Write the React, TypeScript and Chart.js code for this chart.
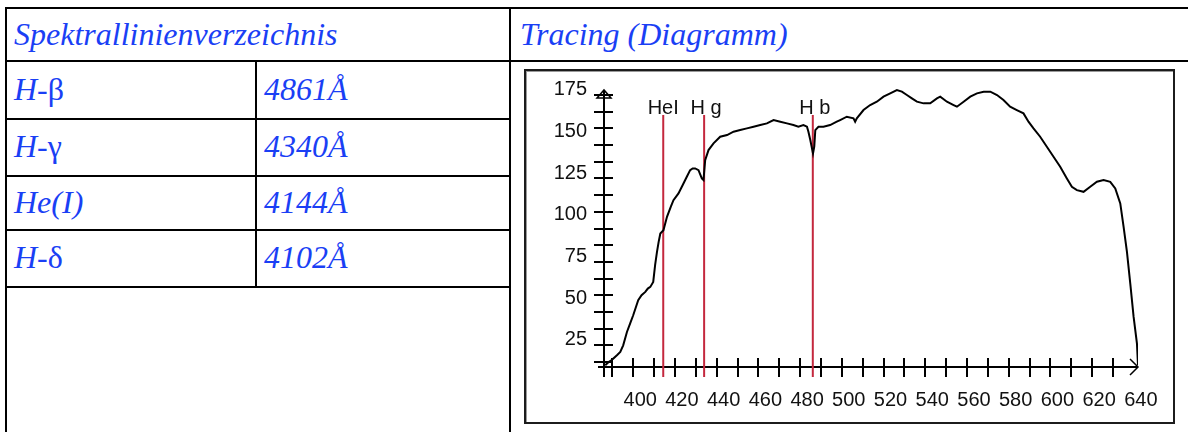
import React, { useEffect, useRef } from "react";
import { Chart, registerables } from "chart.js";

Chart.register(...registerables);

// ---- Chart data ----
const wavelengths = [
  386.6, 388.2, 389.5, 392.2, 393.8, 395.2, 397.0, 398.5, 400.0, 402.4, 404.0, 405.8, 407.0, 408.2, 409.6,
  410.5, 411.4, 412.2, 413.0, 414.5, 416.2, 418.0, 419.3, 421.7, 424.1, 425.7, 427.3, 428.5, 429.7, 431.3,
  432.9, 433.7, 434.5, 436.1, 438.5, 441.7, 445.0, 448.1, 451.3, 454.5, 457.7, 460.9, 464.1, 467.3, 470.5,
  473.7, 476.8, 479.2, 481.6, 483.3, 484.0, 484.9, 486.2, 486.8, 487.3, 488.8, 491.2, 494.4, 497.6, 499.2,
  502.4, 505.6, 506.4, 507.2, 510.4, 513.6, 516.8, 520.0, 523.2, 526.4, 528.8, 531.2, 533.6, 536.0, 539.2,
  542.4, 545.6, 547.2, 550.4, 553.6, 555.2, 558.4, 561.6, 564.8, 568.0, 571.2, 574.4, 577.5, 580.7, 583.9,
  587.1, 589.5, 591.9, 595.1, 598.3, 601.5, 604.7, 607.9, 610.3, 612.7, 615.9, 619.1, 622.3, 625.5, 628.7,
  631.1, 633.5, 635.1, 636.7, 638.3, 639.9, 641.5, 642.0,
];
const intensity = [
  8, 10, 11, 14, 16, 20, 28, 33, 38, 47, 50, 52, 54, 55, 58,
  68, 76, 82, 87, 89, 97, 103, 107, 111, 117, 121, 125, 126, 126, 125,
  120, 119, 131, 137, 141, 145, 146, 148, 149, 150, 151, 152, 153, 155, 154,
  153, 152, 151, 152, 151, 148, 143, 135, 139, 149, 151, 151, 152, 154, 155,
  157, 156, 154, 156, 161, 164, 166, 169, 171, 173, 172, 170, 168, 166, 165,
  165, 168, 169, 166, 164, 163, 166, 169, 171, 172, 172, 170, 167, 163, 161,
  159, 154, 150, 145, 139, 133, 127, 120, 115, 113, 112, 115, 118, 119, 118,
  114, 105, 91, 76, 57, 37, 21, 8,
];
const lineNames = ["HeI", "H g", "H b"];
const lineWavelengths = [414.4, 434.0, 486.1];
const lineTop = 158;
const lineBottom = 1;
const xTickValues = [400, 420, 440, 460, 480, 500, 520, 540, 560, 580, 600, 620, 640];
const yTickValues = [25, 50, 75, 100, 125, 150, 175];
const minorTickStep = 10;

// ---- Table content ----
const headerLeft = "Spektrallinienverzeichnis";
const headerRight = "Tracing (Diagramm)";
const rowPrefix = ["H-", "H-", "He(I)", "H-"];
const rowGreek = ["β", "γ", "", "δ"];
const rowValues = ["4861Å", "4340Å", "4144Å", "4102Å"];
const rowBaselines = [100, 157, 213, 268];

const BLUE = "#1a3ff5";
const SERIF = '"Liberation Serif", "Times New Roman", serif';
const AXFONT = '"Liberation Sans", Arial, sans-serif';

const axesPlugin = {
  id: "oldAxes",
  beforeDatasetsDraw(chart: any) {
    const { ctx, scales } = chart;
    const x = scales.x;
    const y = scales.y;
    const x0 = Math.round(x.getPixelForValue(x.min));
    const y0 = Math.round(y.getPixelForValue(y.min));
    const xEnd = Math.round(x.getPixelForValue(x.max));
    const yTop = Math.round(y.getPixelForValue(173));
    ctx.save();
    ctx.strokeStyle = "#000";
    ctx.lineWidth = 2;
    ctx.beginPath();
    ctx.moveTo(x0, y0 + 10);
    ctx.lineTo(x0, yTop);
    ctx.moveTo(x0 - 6, y0);
    ctx.lineTo(xEnd, y0);
    for (let v = minorTickStep; v < 173; v += minorTickStep) {
      const py = Math.round(y.getPixelForValue(v));
      ctx.moveTo(x0 - 10, py);
      ctx.lineTo(x0 + 9, py);
    }
    for (let v = 390; v < 640; v += minorTickStep) {
      const px = Math.round(x.getPixelForValue(v));
      ctx.moveTo(px, y0 - 9);
      ctx.lineTo(px, y0 + 10);
    }
    ctx.stroke();
    // arrow heads
    ctx.lineWidth = 1.5;
    ctx.beginPath();
    ctx.moveTo(x0 - 7, yTop + 8);
    ctx.lineTo(x0, yTop);
    ctx.lineTo(x0 + 7, yTop + 8);
    ctx.closePath();
    ctx.stroke();
    ctx.beginPath();
    ctx.moveTo(xEnd - 8, y0 - 8);
    ctx.lineTo(xEnd, y0);
    ctx.lineTo(xEnd - 8, y0 + 8);
    ctx.stroke();
    ctx.restore();
  },
  afterDatasetsDraw(chart: any) {
    const { ctx, scales } = chart;
    const x = scales.x;
    const y = scales.y;
    ctx.save();
    ctx.fillStyle = "#111";
    ctx.font = `20px ${AXFONT}`;
    ctx.textAlign = "center";
    ctx.textBaseline = "alphabetic";
    lineNames.forEach((name, i) => {
      const px = x.getPixelForValue(lineWavelengths[i]);
      const py = y.getPixelForValue(lineTop) - 1;
      ctx.fillText(name, px + (i === 0 ? 0 : 2), py);
    });
    ctx.restore();
  },
};

function Text(props: { x: number; baseline: number; size: number; children: any }) {
  const { x, baseline, size, children } = props;
  return (
    <div
      style={{
        position: "absolute",
        left: x,
        top: baseline - 0.8375 * size,
        fontFamily: SERIF,
        fontSize: size,
        lineHeight: `${size}px`,
        fontStyle: "italic",
        color: BLUE,
        whiteSpace: "nowrap",
      }}
    >
      {children}
    </div>
  );
}

function HLine(props: { x1: number; x2: number; y: number }) {
  return (
    <div style={{ position: "absolute", left: props.x1, top: props.y, width: props.x2 - props.x1, height: 2, background: "#000" }} />
  );
}
function VLine(props: { x: number; y1: number; y2: number }) {
  return (
    <div style={{ position: "absolute", left: props.x, top: props.y1, width: 2, height: props.y2 - props.y1, background: "#000" }} />
  );
}

export default function App() {
  const canvasRef = useRef<HTMLCanvasElement>(null);

  useEffect(() => {
    if (!canvasRef.current) return;
    const traceData = wavelengths.map((w, i) => ({ x: w, y: intensity[i] }));
    const lineDatasets = lineWavelengths.map((w, i) => ({
      label: lineNames[i],
      data: [
        { x: w, y: lineBottom },
        { x: w, y: lineTop },
      ],
      borderColor: "#c4283e",
      borderWidth: 2,
      pointRadius: 0,
      clip: false as any,
      order: 2,
    }));
    const chart = new Chart(canvasRef.current, {
      type: "line",
      data: {
        datasets: [
          {
            label: "Tracing",
            data: traceData,
            borderColor: "#000",
            borderWidth: 2,
            pointRadius: 0,
            tension: 0,
            order: 1,
          },
          ...lineDatasets,
        ],
      },
      options: {
        animation: false,
        responsive: false,
        maintainAspectRatio: false,
        layout: { padding: { left: 0, right: 35, top: 14, bottom: 0 } },
        plugins: { legend: { display: false }, tooltip: { enabled: false } },
        scales: {
          x: {
            type: "linear",
            min: 386,
            max: 642,
            grid: { display: false, drawTicks: false },
            border: { display: false },
            afterBuildTicks: (s: any) => {
              s.ticks = xTickValues.map((v) => ({ value: v }));
            },
            afterFit: (s: any) => {
              s.height = 55;
              s.paddingLeft = 0;
              s.paddingRight = 0;
            },
            ticks: {
              font: { family: AXFONT, size: 20 },
              color: "#111",
              padding: 21,
              labelOffset: 7,
              maxRotation: 0,
              autoSkip: false,
              callback: (v: any) => String(v),
            },
          },
          y: {
            type: "linear",
            min: 7,
            max: 176,
            grid: { display: false, drawTicks: false },
            border: { display: false },
            afterBuildTicks: (s: any) => {
              s.ticks = yTickValues.map((v) => ({ value: v }));
            },
            afterFit: (s: any) => {
              s.width = 78;
              s.paddingTop = 0;
              s.paddingBottom = 0;
            },
            ticks: {
              font: { family: AXFONT, size: 20 },
              color: "#111",
              padding: 17,
              labelOffset: 3,
              autoSkip: false,
              callback: (v: any) => String(v),
            },
          },
        },
      },
      plugins: [axesPlugin],
    });
    return () => chart.destroy();
  }, []);

  return (
    <div style={{ position: "fixed", left: 0, top: 0, width: 1188, height: 432, overflow: "hidden", background: "#fff" }}>
      <HLine x1={5} x2={1188} y={7} />
      <HLine x1={5} x2={1188} y={60} />
      <VLine x={5} y1={7} y2={432} />
      <VLine x={509} y1={7} y2={432} />
      <VLine x={255} y1={60} y2={288} />
      <HLine x1={5} x2={511} y={118} />
      <HLine x1={5} x2={511} y={175} />
      <HLine x1={5} x2={511} y={229} />
      <HLine x1={5} x2={511} y={286} />

      <Text x={14} baseline={45} size={32}>{headerLeft}</Text>
      <Text x={520} baseline={45} size={32}>{headerRight}</Text>
      {rowPrefix.map((p, i) => (
        <React.Fragment key={i}>
          <Text x={14} baseline={rowBaselines[i]} size={32}>
            {p}
            {rowGreek[i] ? <span style={{ fontStyle: "normal" }}>{rowGreek[i]}</span> : null}
          </Text>
          <Text x={264} baseline={rowBaselines[i]} size={32}>{rowValues[i]}</Text>
        </React.Fragment>
      ))}

      <div
        style={{
          position: "absolute",
          left: 524,
          top: 69,
          width: 647,
          height: 351,
          border: "2px solid #1c1c1c",
          boxShadow: "inset 1px 1px 0 #9a9a9a",
          background: "#fff",
        }}
      >
        <canvas ref={canvasRef} width={647} height={351} style={{ display: "block", width: 647, height: 351 }} />
      </div>
    </div>
  );
}
